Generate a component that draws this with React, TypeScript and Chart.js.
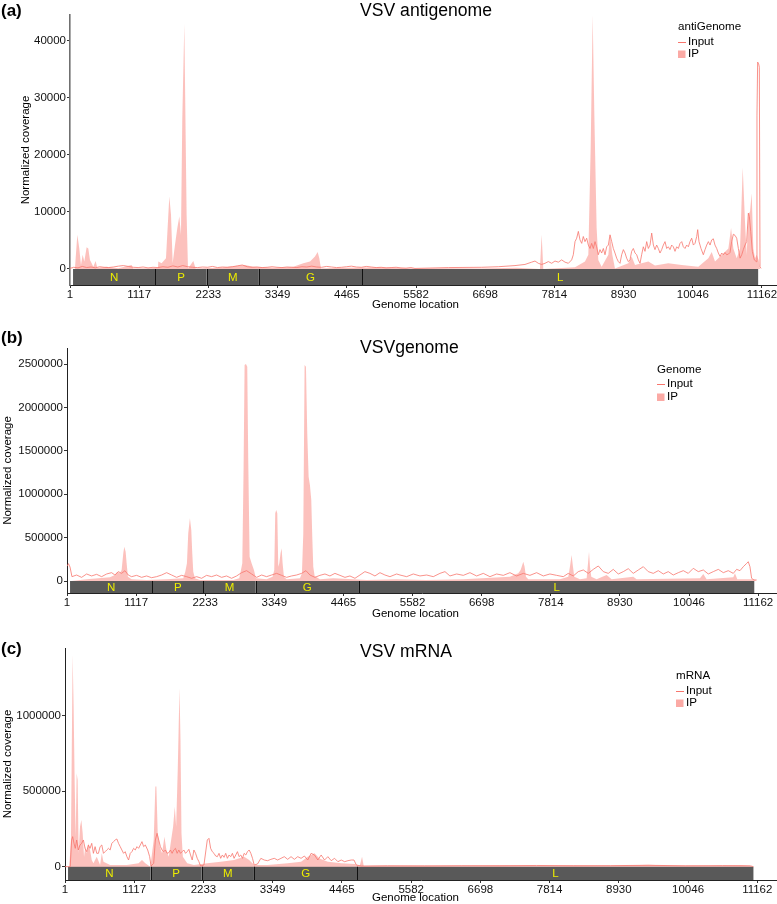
import React, { useEffect, useRef } from "react";
import { Chart, registerables } from "chart.js";

Chart.register(...registerables);

const FONT = '"Liberation Sans", Arial, Helvetica, sans-serif';
const LINE_COLOR = "#F8766D";
const FILL_COLOR = "rgba(248,118,109,0.45)";
const KEY_FILL = "rgba(248,118,109,0.62)";

// ---------- shared axis / annotation data ----------
const xTickValues = [1, 1117, 2233, 3349, 4465, 5582, 6698, 7814, 8930, 10046, 11162];
const geneNames = ["N", "P", "M", "G", "L"];
const geneStarts = [50, 1380, 2205, 3047, 4716];
const geneEnds = [1380, 2205, 3047, 4716, 11100];

const yTicksA = [0, 10000, 20000, 30000, 40000];
const yTicksB = [0, 500000, 1000000, 1500000, 2000000, 2500000];
const yTicksC = [0, 500000, 1000000];

// ---------- panel (a) VSV antigenome ----------
const ipA: [number, number][] = [
  [1, 0], [80, 0], [119, 6000], [151, 3600], [178, 700], [205, 2500], [232, 1300], [269, 3800], [296, 3600],
  [323, 1600], [350, 1000], [377, 400], [414, 1400], [441, 200], [592, 400], [780, 150], [995, 700], [1022, 100],
  [1300, 150], [1420, 200], [1425, 1300], [1479, 1000], [1549, 1900], [1603, 12700], [1630, 9500], [1657, 1000],
  [1694, 4200], [1732, 7200], [1764, 9200], [1791, 6000], [1812, 26300], [1845, 43000], [1866, 23600], [1882, 9500],
  [1904, 100], [1990, 1400], [2027, 100], [2400, 200], [2823, 700], [2958, 400], [3300, 200], [3603, 400],
  [3764, 1000], [3872, 1300], [3952, 2200], [3995, 3000], [4022, 1900], [4049, 100], [4400, 200], [5000, 300],
  [5565, 100], [6100, 150], [6650, 100], [7200, 200], [7580, 0], [7608, 6000], [7635, 0], [8146, 300], [8307, 1300],
  [8361, 2500], [8399, 21300], [8431, 44500], [8458, 27000], [8495, 7200], [8522, 1600], [8576, 400], [8684, 2500],
  [8711, 6000], [8748, 2500], [8791, 100], [9006, 1000], [9060, 2200], [9114, 700], [9329, 1300], [9436, 600],
  [9651, 1000], [9866, 700], [10135, 400], [10297, 1900], [10351, 3000], [10404, 1300], [10620, 3600], [10663, 7200],
  [10700, 3600], [10754, 1900], [10808, 3600], [10851, 17800], [10888, 8300], [10915, 2500], [10942, 9500],
  [10969, 10100], [10996, 13300], [11022, 3600], [11049, 1900], [11076, 2500], [11110, 1500], [11130, 0],
];
const inputA: [number, number][] = [
  [1, 100], [60, 300], [130, 200], [200, 450], [270, 250], [340, 350], [410, 200], [480, 400], [550, 300], [620, 250],
  [700, 350], [780, 500], [860, 600], [940, 450], [1020, 300], [1100, 250], [1180, 350], [1260, 200], [1340, 300],
  [1420, 250], [1500, 400], [1580, 300], [1660, 550], [1740, 350], [1820, 600], [1900, 400], [1980, 300], [2060, 250],
  [2140, 350], [2220, 300], [2300, 450], [2380, 250], [2460, 350], [2540, 300], [2620, 400], [2700, 550], [2780, 700],
  [2860, 400], [2940, 300], [3020, 350], [3100, 250], [3180, 300], [3260, 400], [3340, 300], [3420, 250], [3500, 350],
  [3580, 300], [3660, 250], [3740, 400], [3820, 350], [3900, 500], [3980, 350], [4060, 300], [4140, 450], [4220, 350],
  [4300, 250], [4380, 300], [4460, 400], [4540, 500], [4620, 350], [4700, 300], [4780, 450], [4860, 350], [4940, 250],
  [5020, 300], [5100, 200], [5180, 250], [5260, 300], [5340, 200], [5420, 150], [5500, 250],
  [5565, 100], [6103, 250], [6640, 300], [6909, 400], [7178, 600], [7339, 800], [7447, 1200], [7501, 1400],
  [7554, 1000], [7608, 800], [7662, 1000], [7716, 1300], [7770, 1000], [7823, 1400], [7877, 1200], [7931, 1600],
  [7985, 1200], [8039, 1000], [8092, 1600], [8119, 2500], [8146, 4800], [8173, 5400], [8200, 6600], [8227, 5100],
  [8254, 4500], [8280, 5700], [8307, 4800], [8334, 5400], [8361, 4200], [8388, 3600], [8415, 4500], [8442, 3600],
  [8469, 4800], [8495, 3900], [8522, 2500], [8549, 3400], [8576, 2800], [8603, 3600], [8630, 2500], [8657, 3900],
  [8684, 4200], [8711, 6000], [8738, 4800], [8764, 3600], [8791, 2800], [8818, 1900], [8845, 1300], [8872, 1000],
  [8899, 2500], [8926, 3400], [8953, 2800], [8979, 1900], [9006, 1300], [9033, 1600], [9060, 3100], [9087, 3600],
  [9114, 2800], [9141, 2500], [9168, 1600], [9195, 1000], [9221, 2500], [9248, 3900], [9275, 3100], [9302, 4800],
  [9329, 3600], [9356, 4200], [9383, 6300], [9410, 4200], [9436, 3400], [9463, 4200], [9490, 3600], [9517, 2800],
  [9544, 3400], [9571, 4200], [9598, 4800], [9625, 3600], [9651, 3900], [9678, 3400], [9705, 4200], [9732, 3900],
  [9759, 3100], [9786, 3900], [9813, 3600], [9840, 4500], [9867, 4800], [9893, 3900], [9920, 3600], [9947, 4200],
  [9974, 3900], [10001, 4800], [10028, 5400], [10055, 4200], [10082, 4500], [10109, 5700], [10125, 6900],
  [10146, 4800], [10178, 3600], [10216, 2500], [10243, 3400], [10270, 4200], [10297, 4800], [10324, 4200],
  [10351, 5100], [10377, 5300], [10404, 4200], [10431, 3600], [10458, 2800], [10485, 2200], [10512, 2800],
  [10539, 2500], [10566, 2900], [10592, 2500], [10619, 2600], [10646, 2900], [10673, 4800], [10700, 6100],
  [10727, 5900], [10754, 5400], [10781, 3600], [10808, 1900], [10835, 2500], [10861, 3400], [10888, 4200],
  [10915, 4800], [10942, 9800], [10958, 9200], [10980, 6600], [11006, 3100], [11038, 1600], [11071, 1300],
  [11081, 27000], [11092, 36300], [11108, 36000], [11119, 35400], [11130, 400], [11146, 100],
];

// ---------- panel (b) VSVgenome ----------
const ipB: [number, number][] = [
  [1, 0], [75, 0], [318, 19000], [694, 42000], [775, 69000], [813, 107500], [856, 88000], [883, 126700],
  [910, 318700], [926, 395500], [948, 337900], [964, 203500], [985, 50000], [1044, 19000], [1287, 11500],
  [1610, 19000], [1879, 30700], [1911, 107500], [1938, 203500], [1959, 549200], [1986, 722000], [2008, 587600],
  [2024, 318700], [2040, 107500], [2067, 30700], [2148, 11500], [2686, 11500], [2783, 30700], [2805, 107500],
  [2832, 203500], [2853, 1317000], [2869, 2488500], [2891, 2500000], [2912, 2469000], [2928, 1394000],
  [2950, 280300], [2982, 203500], [3020, 126700], [3052, 30700], [3224, 19000], [3321, 50000], [3348, 126700],
  [3364, 779600], [3380, 818000], [3397, 779600], [3413, 165100], [3429, 203500], [3450, 318700], [3467, 376400],
  [3483, 203500], [3504, 50000], [3547, 19000], [3763, 30700], [3795, 88300], [3817, 549200], [3838, 2488500],
  [3860, 2469000], [3881, 1701000], [3903, 1202000], [3924, 1106000], [3946, 933200], [3962, 510800],
  [3978, 165100], [4000, 57600], [4086, 19000], [4301, 30700], [4624, 19000], [4839, 11500], [5324, 19000],
  [5800, 11500], [6400, 19000], [7154, 50000], [7289, 88000], [7327, 126700], [7370, 222000], [7391, 165000],
  [7413, 50000], [7450, 19000], [7962, 19000], [8096, 50000], [8123, 165000], [8150, 299500], [8172, 165000],
  [8193, 50000], [8285, 19000], [8393, 30700], [8415, 203500], [8431, 337900], [8447, 165000], [8468, 50000],
  [8554, 19000], [8715, 69000], [8796, 19000], [9146, 50000], [9200, 19000], [10223, 30700], [10277, 80600],
  [10330, 19000], [10761, 42000], [10788, 88300], [10826, 19000], [11084, 19000], [11111, 11500], [11140, 0],
];
const inputB: [number, number][] = [
  [1, 170000], [25, 200000], [50, 160000], [81, 50000], [156, 69000], [237, 42000], [318, 81000], [398, 58000],
  [479, 77000], [560, 50000], [641, 81000], [721, 96000], [775, 69000], [829, 108000], [883, 88000], [937, 119000],
  [990, 69000], [1044, 50000], [1125, 65000], [1206, 42000], [1287, 58000], [1367, 38000], [1448, 50000],
  [1529, 69000], [1610, 96000], [1690, 69000], [1771, 42000], [1852, 65000], [1933, 50000], [2013, 31000],
  [2094, 50000], [2175, 31000], [2255, 65000], [2336, 50000], [2417, 69000], [2498, 42000], [2578, 58000],
  [2659, 31000], [2740, 58000], [2821, 96000], [2901, 119000], [2982, 81000], [3063, 42000], [3144, 69000],
  [3224, 50000], [3305, 69000], [3386, 88000], [3467, 65000], [3547, 42000], [3628, 58000], [3709, 69000],
  [3790, 88000], [3860, 119000], [3924, 69000], [4005, 42000], [4086, 65000], [4167, 81000], [4247, 58000],
  [4328, 88000], [4409, 65000], [4490, 42000], [4570, 58000], [4651, 31000], [4732, 69000], [4812, 108000],
  [4893, 88000], [4974, 58000], [5055, 96000], [5135, 69000], [5216, 50000], [5324, 81000],
  [5378, 69000], [5486, 50000], [5593, 81000], [5701, 58000], [5809, 69000], [5916, 50000], [6024, 88000],
  [6105, 108000], [6185, 58000], [6293, 81000], [6401, 65000], [6508, 96000], [6616, 58000], [6724, 88000],
  [6831, 50000], [6939, 81000], [7047, 65000], [7154, 96000], [7262, 58000], [7370, 88000], [7477, 65000],
  [7585, 96000], [7693, 58000], [7800, 81000], [7908, 65000], [8016, 50000], [8096, 88000], [8177, 58000],
  [8258, 108000], [8339, 127000], [8419, 88000], [8500, 134000], [8581, 173000], [8662, 108000], [8742, 88000],
  [8823, 134000], [8904, 81000], [8985, 108000], [9065, 142000], [9146, 88000], [9227, 127000], [9308, 165000],
  [9388, 108000], [9469, 88000], [9550, 119000], [9631, 81000], [9711, 108000], [9792, 69000], [9873, 96000],
  [9954, 119000], [10034, 88000], [10115, 146000], [10196, 108000], [10277, 127000], [10357, 81000],
  [10438, 108000], [10519, 134000], [10600, 96000], [10680, 119000], [10761, 88000], [10815, 134000],
  [10869, 119000], [10923, 165000], [10977, 203000], [11003, 222000], [11030, 165000], [11057, 31000],
  [11095, 12000], [11138, 12000],
];

// ---------- panel (c) VSV mRNA ----------
const ipC: [number, number][] = [
  [1, 0], [70, 0], [97, 177000], [124, 1405000], [140, 1062000], [157, 553000], [173, 199000], [189, 620000],
  [205, 575000], [221, 88500], [243, 265000], [265, 310000], [286, 221000], [308, 66000], [329, 133000],
  [351, 88500], [378, 155000], [405, 110000], [432, 44000], [459, 22000], [513, 66000], [567, 11000], [594, 88500],
  [621, 33000], [729, 11000], [999, 11000], [1188, 22000], [1242, 44000], [1296, 22000], [1377, 0], [1431, 177000],
  [1458, 531000], [1474, 531000], [1496, 221000], [1528, 133000], [1566, 88500], [1604, 199000], [1636, 110000],
  [1674, 66000], [1712, 177000], [1744, 265000], [1771, 398000], [1793, 265000], [1820, 664000], [1847, 1184000],
  [1863, 841000], [1879, 221000], [1901, 66000], [1971, 22000], [2079, 11000], [2295, 22000], [2511, 33000],
  [2727, 44000], [2889, 66000], [2970, 44000], [3051, 11000], [3267, 11000], [3591, 22000], [3807, 33000],
  [3915, 66000], [4023, 88500], [4104, 55000], [4239, 33000], [4455, 22000], [4671, 18000], [4752, 4400],
  [4790, 66000], [4817, 4400], [5200, 6000], [5800, 8000], [6400, 5000], [7000, 9000], [7600, 6000], [8200, 10000],
  [8800, 7000], [9400, 12000], [9800, 8000], [10400, 6000], [10900, 9000], [11050, 4000], [11100, 0],
];
const inputC: [number, number][] = [
  [1, 0], [85, 0], [108, 177000], [124, 199200], [146, 154900], [167, 121700], [189, 177000], [216, 110700],
  [243, 143800], [270, 154900], [297, 177000], [324, 121700], [351, 99600], [378, 143800], [405, 121700],
  [432, 154900], [459, 88500], [486, 132800], [513, 88500], [540, 88500], [567, 132800], [594, 143800],
  [621, 88500], [648, 99600], [675, 110700], [702, 121700], [729, 110700], [756, 154900], [783, 166000],
  [810, 177000], [837, 183700], [864, 154900], [891, 132800], [918, 110700], [945, 88500], [972, 99600],
  [999, 66400], [1026, 44300], [1053, 88500], [1080, 99600], [1107, 121700], [1134, 110700], [1161, 132800],
  [1188, 121700], [1215, 143800], [1242, 166000], [1269, 132800], [1296, 143800], [1334, 110700], [1366, 66400],
  [1388, 4400], [1431, 22100], [1458, 177000], [1485, 221300], [1512, 177000], [1539, 132800], [1566, 110700],
  [1593, 99600], [1620, 110700], [1647, 88500], [1674, 92900], [1701, 110700], [1728, 88500], [1755, 110700],
  [1782, 121700], [1809, 88500], [1836, 110700], [1863, 88500], [1890, 99600], [1917, 110700], [1944, 88500],
  [1971, 99600], [1998, 115100], [2025, 77500], [2052, 44300], [2079, 110700], [2106, 88500], [2133, 55300],
  [2160, 33200], [2187, 4400], [2241, 11100], [2295, 177000], [2322, 188100], [2349, 121700], [2376, 99600],
  [2403, 88500], [2430, 70800], [2457, 66400], [2484, 88500], [2511, 55300], [2538, 77500], [2565, 62000],
  [2592, 88500], [2619, 55300], [2646, 77500], [2673, 66400], [2700, 88500], [2727, 55300], [2754, 77500],
  [2781, 99600], [2808, 66400], [2835, 77500], [2862, 55300], [2889, 88500], [2916, 77500], [2943, 99600],
  [2970, 110700], [2997, 88500], [3024, 55300], [3051, 11100], [3105, 17700], [3159, 55300], [3213, 44300],
  [3267, 39800], [3321, 48700], [3375, 55300], [3429, 44300], [3483, 55300], [3537, 66400], [3591, 48700],
  [3645, 66400], [3699, 48700], [3753, 66400], [3807, 55300], [3861, 70800], [3915, 44300], [3969, 88500],
  [4023, 77500], [4077, 44300], [4131, 77500], [4185, 44300], [4239, 66400], [4293, 39800], [4347, 55300],
  [4401, 33200], [4455, 44300], [4509, 33200], [4563, 39800], [4617, 44300], [4660, 44300], [4698, 11100],
  [4779, 4400], [5200, 6000], [5800, 5000], [6400, 7000], [7000, 6000], [7600, 8000], [8200, 6000], [8800, 7000],
  [9400, 9000], [10000, 6000], [10600, 7000], [11050, 6000], [11100, 0],
];

// ---------- panel specs (layout only) ----------
type Spec = {
  key: string; letter: string; title: string; legendTitle: string;
  ip: [number, number][]; input: [number, number][]; yTicks: number[];
  yMin: number; yMax: number; xMax: number;
  top: number; height: number; chartTop: number; xAxisH: number; left: number; yTitlePad: number;
  letterY: number; titleY: number; xTitleY: number;
  legX: number; legTitleY: number; legInputY: number; legIpY: number;
  yBorderColor: string; yBorderWidth: number;
};

const panels: Spec[] = [
  {
    key: "a", letter: "(a)", title: "VSV antigenome", legendTitle: "antiGenome",
    ip: ipA, input: inputA, yTicks: yTicksA, yMin: -2807, yMax: 44561, xMax: 11404,
    top: 0, height: 316, chartTop: 15, xAxisH: 31, left: 70, yTitlePad: 19,
    letterY: 11.5, titleY: 11, xTitleY: 305,
    legX: 678, legTitleY: 27, legInputY: 42, legIpY: 54,
    yBorderColor: "#707070", yBorderWidth: 1.6,
  },
  {
    key: "b", letter: "(b)", title: "VSVgenome", legendTitle: "Genome",
    ip: ipB, input: inputB, yTicks: yTicksB, yMin: -138250, yMax: 2684400, xMax: 11467,
    top: 316, height: 306, chartTop: 32, xAxisH: 29, left: 67, yTitlePad: 1.4,
    letterY: 22, titleY: 32, xTitleY: 298,
    legX: 657, legTitleY: 53.5, legInputY: 68, legIpY: 81,
    yBorderColor: "#222222", yBorderWidth: 1,
  },
  {
    key: "c", letter: "(c)", title: "VSV mRNA", legendTitle: "mRNA",
    ip: ipC, input: inputC, yTicks: yTicksC, yMin: -88300, yMax: 1450000, xMax: 11480,
    top: 622, height: 282, chartTop: 26, xAxisH: 24, left: 65, yTitlePad: 1.4,
    letterY: 27, titleY: 30, xTitleY: 276,
    legX: 676, legTitleY: 54, legInputY: 69, legIpY: 81,
    yBorderColor: "#222222", yBorderWidth: 1,
  },
];

function makeDeco(s: Spec) {
  return {
    id: "deco_" + s.key,
    beforeDatasetsDraw(chart: any) {
      const { ctx, chartArea, scales } = chart;
      const xs = scales.x;
      const ys = scales.y;
      const top = ys.getPixelForValue(0);
      const bottom = chartArea.bottom;
      ctx.save();
      ctx.fillStyle = "#595959";
      for (let i = 0; i < geneNames.length; i++) {
        const x0 = xs.getPixelForValue(geneStarts[i]);
        const x1 = xs.getPixelForValue(geneEnds[i]);
        ctx.fillRect(x0, top, x1 - x0, bottom - top);
      }
      ctx.strokeStyle = "#111";
      ctx.lineWidth = 1;
      for (let i = 1; i < geneNames.length; i++) {
        const xb = Math.round(xs.getPixelForValue(geneStarts[i])) + 0.5;
        ctx.beginPath();
        ctx.moveTo(xb, top);
        ctx.lineTo(xb, bottom);
        ctx.stroke();
      }
      ctx.fillStyle = "#EDED00";
      ctx.font = "11.5px " + FONT;
      ctx.textAlign = "center";
      ctx.textBaseline = "middle";
      for (let i = 0; i < geneNames.length; i++) {
        const x0 = xs.getPixelForValue(geneStarts[i]);
        const x1 = xs.getPixelForValue(geneEnds[i]);
        ctx.fillText(geneNames[i], (x0 + x1) / 2, (top + bottom) / 2 + 0.5);
      }
      ctx.restore();
    },
    afterDraw(chart: any) {
      const { ctx } = chart;
      ctx.save();
      ctx.fillStyle = "#000";
      ctx.textBaseline = "middle";
      ctx.textAlign = "left";
      ctx.font = "bold 17px " + FONT;
      ctx.fillText(s.letter, 1, s.letterY);
      ctx.font = "17.6px " + FONT;
      ctx.fillText(s.title, 360, s.titleY);
      ctx.font = "11.5px " + FONT;
      ctx.fillText("Genome location", 372, s.xTitleY);
      // legend
      ctx.font = "11.6px " + FONT;
      ctx.fillText(s.legendTitle, s.legX, s.legTitleY);
      ctx.strokeStyle = LINE_COLOR;
      ctx.lineWidth = 1;
      ctx.beginPath();
      ctx.moveTo(s.legX, s.legInputY + 0.5);
      ctx.lineTo(s.legX + 8, s.legInputY + 0.5);
      ctx.stroke();
      ctx.fillText("Input", s.legX + 10, s.legInputY);
      ctx.fillStyle = KEY_FILL;
      ctx.fillRect(s.legX, s.legIpY - 3.5, 7.5, 7.5);
      ctx.fillStyle = "#000";
      ctx.fillText("IP", s.legX + 10, s.legIpY);
      ctx.restore();
    },
  };
}

function Panel({ s }: { s: Spec }) {
  const ref = useRef<HTMLCanvasElement | null>(null);
  useEffect(() => {
    if (!ref.current) return;
    const tickFont = { family: FONT, size: 11.5 };
    const chart = new Chart(ref.current, {
      type: "line",
      data: {
        datasets: [
          {
            label: "Input",
            data: s.input.map(([x, y]) => ({ x, y })),
            borderColor: LINE_COLOR,
            borderWidth: 0.8,
            pointRadius: 0,
            fill: false,
            tension: 0,
          },
          {
            label: "IP",
            data: s.ip.map(([x, y]) => ({ x, y })),
            borderColor: "rgba(0,0,0,0)",
            borderWidth: 0,
            backgroundColor: FILL_COLOR,
            pointRadius: 0,
            fill: "origin",
            tension: 0,
          },
        ],
      },
      options: {
        responsive: false,
        maintainAspectRatio: false,
        animation: false,
        events: [],
        layout: { padding: { top: s.chartTop, left: 0, right: 0, bottom: 0 } },
        plugins: {
          legend: { display: false },
          tooltip: { enabled: false },
          title: { display: false },
        },
        scales: {
          x: {
            type: "linear",
            min: 1,
            max: s.xMax,
            afterBuildTicks: (axis: any) => {
              axis.ticks = xTickValues.map((v) => ({ value: v }));
            },
            afterFit: (axis: any) => {
              axis.height = s.xAxisH;
              axis.paddingLeft = 0;
              axis.paddingRight = 0;
            },
            ticks: {
              autoSkip: false,
              maxRotation: 0,
              minRotation: 0,
              padding: 0,
              color: "#111",
              font: tickFont,
              callback: (v: any) => String(v),
            },
            grid: { drawOnChartArea: false, drawTicks: true, tickLength: 3, color: "#333" },
            border: { display: true, color: "#222", width: 1 },
          },
          y: {
            type: "linear",
            min: s.yMin,
            max: s.yMax,
            afterBuildTicks: (axis: any) => {
              axis.ticks = s.yTicks.map((v) => ({ value: v }));
            },
            afterFit: (axis: any) => {
              axis.width = s.left;
              axis.paddingTop = 0;
              axis.paddingBottom = 0;
            },
            ticks: {
              padding: 1,
              color: "#111",
              font: tickFont,
              callback: (v: any) => String(v),
            },
            grid: { drawOnChartArea: false, drawTicks: true, tickLength: 3, color: "#333" },
            border: { display: true, color: s.yBorderColor, width: s.yBorderWidth },
            title: {
              display: true,
              text: "Normalized coverage",
              color: "#000",
              font: { family: FONT, size: 11.5 },
              padding: { top: s.yTitlePad, bottom: 0 },
            },
          },
        },
      } as any,
      plugins: [makeDeco(s)],
    });
    return () => chart.destroy();
  }, [s]);
  return (
    <canvas
      ref={ref}
      width={777}
      height={s.height}
      style={{ position: "absolute", left: 0, top: s.top, width: 777, height: s.height, display: "block" }}
    />
  );
}

export default function App() {
  return (
    <div style={{ position: "absolute", left: 0, top: 0, width: 777, height: 904, background: "#ffffff", overflow: "hidden" }}>
      {panels.map((p) => (
        <Panel key={p.key} s={p} />
      ))}
    </div>
  );
}
